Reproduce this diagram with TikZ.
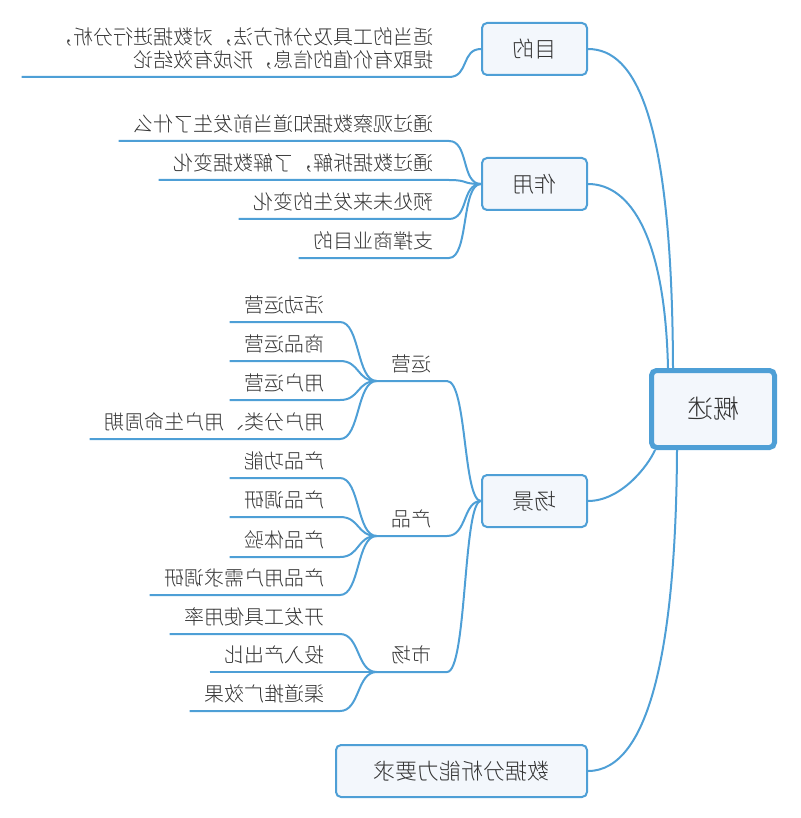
\documentclass[tikz,border=0pt]{standalone}
\usepackage{fontspec}
\usepackage{graphicx}
\setmainfont{Noto Sans CJK SC Light}
\newcommand\mt[1]{\reflectbox{#1}}
\definecolor{lineblue}{HTML}{4E9FD6}
\definecolor{boxfill}{HTML}{F3F7FC}
\definecolor{txt}{HTML}{333333}
\begin{document}
\begin{tikzpicture}[x=1pt,y=-1pt,
  conn/.style={draw=lineblue, line width=2pt},
  topic/.style={draw=lineblue, fill=boxfill, line width=2pt, rounded corners=5pt,
    minimum width=105pt, minimum height=52pt, text=txt, inner sep=0pt,
    font=\fontsize{22}{26}\selectfont},
  rootbox/.style={topic, line width=5pt, minimum width=123pt, minimum height=77pt,
    font=\fontsize{26}{30}\selectfont},
  leafbase/.style={inner xsep=15pt, inner ysep=5pt, text=txt, font=\fontsize{20}{23}\selectfont},
  leaf/.style={leafbase, text height=16pt, text depth=4pt, anchor=south east},
]
\useasboundingbox (0,0) rectangle (800,818);

% root and main topics
\node[rootbox] (root) at (713,409) {\mt{概述}};
\node[topic] (mudi) at (534.5,49) {\mt{目的}};
\node[topic] (zuoyong) at (534.5,184) {\mt{作用}};
\node[topic] (changjing) at (534.5,501) {\mt{场景}};
\node[topic, minimum width=251pt] (yaoqiu) at (461.5,771) {\mt{数据分析能力要求}};

\draw[conn] (mudi.east) .. controls +(48,0) and +(-1,-250) .. ([xshift=-40pt]root.north);
\draw[conn] (zuoyong.east) .. controls +(43,0) and +(-3,-130) .. ([xshift=-45pt]root.north);
\draw[conn] (changjing.east) .. controls +(33,0) and +(-7,16) .. ([xshift=-58pt]root.south);
\draw[conn] (yaoqiu.east) .. controls +(63,0) and +(-1,191) .. ([xshift=-36pt]root.south);

% 目的
\node[leafbase, inner ysep=2pt, anchor=south east] (m1) at (449,77)
  {\mt{\begin{tabular}{@{}l@{}}适当的工具及分析方法，对数据进行分析，\\提取有价值的信息，形成有效结论\end{tabular}}};
\draw[conn] ([xshift=-17pt]m1.south west) -- (m1.south east) .. controls +(20,0) and +(-20,0) .. (mudi.west);

% 作用
\node[leaf] (z1) at (449,141) {\mt{通过观察数据知道当前发生了什么}};
\node[leaf] (z2) at (449,180) {\mt{通过数据拆解，了解数据变化}};
\node[leaf] (z3) at (449,219) {\mt{预处未来发生的变化}};
\node[leaf] (z4) at (449,258) {\mt{支撑商业目的}};
\foreach \n in {z1,z2,z3,z4}
  \draw[conn] (\n.south west) -- (\n.south east) .. controls +(20,0) and +(-20,0) .. (zuoyong.west);

% 场景 sub-branches
\node[leaf] (yy) at (447,381) {\mt{运营}};
\node[leaf] (cp) at (447,536) {\mt{产品}};
\node[leaf] (sc) at (447,672) {\mt{市场}};
\foreach \n in {yy,cp,sc}
  \draw[conn] (\n.south west) -- (\n.south east) .. controls +(20,0) and +(-18,0) .. (changjing.west);

% 运营 leaves
\node[leaf] (y1) at (340,322) {\mt{活动运营}};
\node[leaf] (y2) at (340,361) {\mt{商品运营}};
\node[leaf] (y3) at (340,400) {\mt{用户运营}};
\node[leaf] (y4) at (340,439) {\mt{用户分类、用户生命周期}};
\foreach \n in {y1,y2,y3,y4}
  \draw[conn] (\n.south west) -- (\n.south east) .. controls +(20,0) and +(-20,0) .. (yy.south west);

% 产品 leaves
\node[leaf] (c1) at (340,478) {\mt{产品功能}};
\node[leaf] (c2) at (340,517) {\mt{产品调研}};
\node[leaf] (c3) at (340,557) {\mt{产品体验}};
\node[leaf] (c4) at (340,595) {\mt{产品用户需求调研}};
\foreach \n in {c1,c2,c3,c4}
  \draw[conn] (\n.south west) -- (\n.south east) .. controls +(20,0) and +(-20,0) .. (cp.south west);

% 市场 leaves
\node[leaf] (s1) at (340,634) {\mt{开发工具使用率}};
\node[leaf] (s2) at (340,672) {\mt{投入产出比}};
\node[leaf] (s3) at (340,711) {\mt{渠道推广效果}};
\foreach \n in {s1,s2,s3}
  \draw[conn] (\n.south west) -- (\n.south east) .. controls +(20,0) and +(-20,0) .. (sc.south west);
\end{tikzpicture}
\end{document}
